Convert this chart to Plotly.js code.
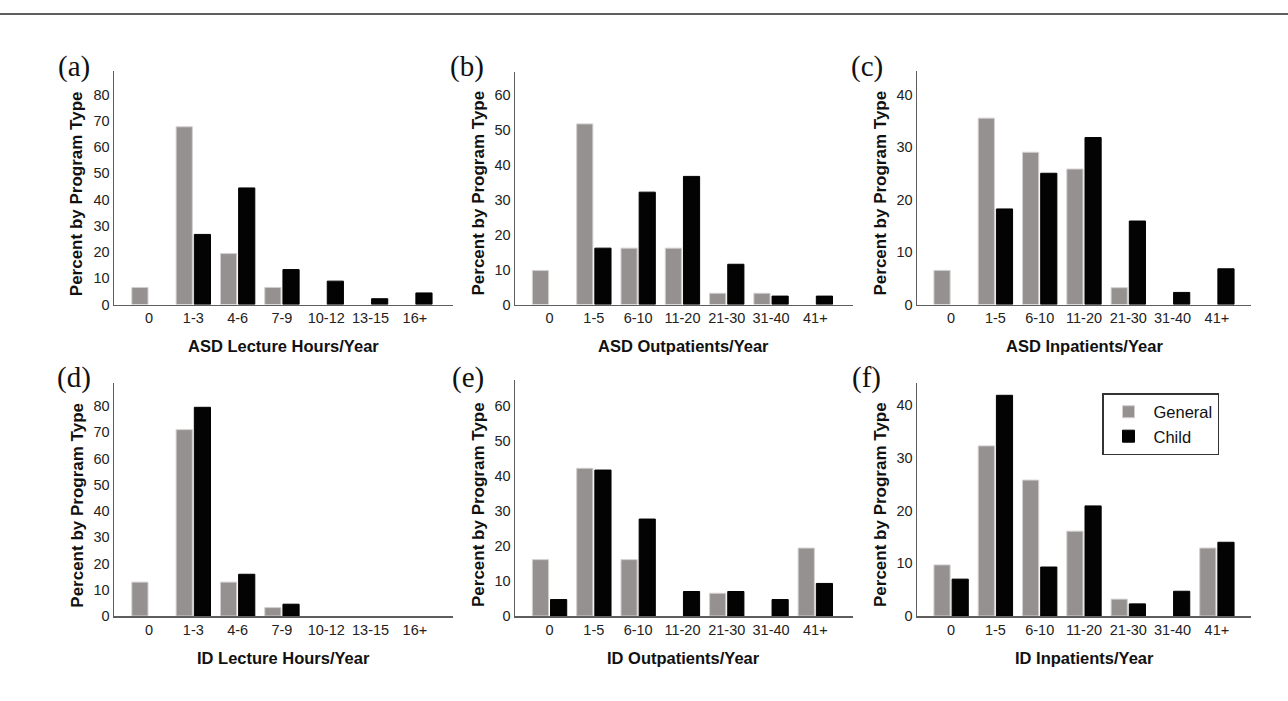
<!DOCTYPE html>
<html>
<head>
<meta charset="utf-8">
<script src="https://cdn.plot.ly/plotly-3.0.1.min.js"></script>
<style>html,body{margin:0;padding:0;background:#fff;}#chart{width:1288px;height:701px;}</style>
</head>
<body>
<div id="chart"></div>
<script>
// ---- data ----
const lectureCats = ['0', '1-3', '4-6', '7-9', '10-12', '13-15', '16+'];
const patientCats = ['0', '1-5', '6-10', '11-20', '21-30', '31-40', '41+'];

const asdLectureGeneral = [6.5, 67.7, 19.4, 6.5, 0, 0, 0];
const asdLectureChild   = [0, 26.7, 44.4, 13.3, 8.9, 2.2, 4.4];
const asdOutGeneral     = [9.7, 51.6, 16.1, 16.1, 3.2, 3.2, 0];
const asdOutChild       = [0, 16.1, 32.1, 36.6, 11.5, 2.4, 2.4];
const asdInGeneral      = [6.5, 35.5, 29.0, 25.8, 3.2, 0, 0];
const asdInChild        = [0, 18.2, 25.0, 31.8, 15.9, 2.3, 6.8];
const idLectureGeneral  = [12.9, 71.0, 12.9, 3.2, 0, 0, 0];
const idLectureChild    = [0, 79.5, 15.9, 4.5, 0, 0, 0];
const idOutGeneral      = [16.1, 42.2, 16.1, 0, 6.5, 0, 19.4];
const idOutChild        = [4.7, 41.7, 27.7, 7.0, 7.0, 4.7, 9.3];
const idInGeneral       = [9.7, 32.3, 25.8, 16.1, 3.2, 0, 12.9];
const idInChild         = [7.0, 41.9, 9.3, 20.9, 2.3, 4.7, 14.0];

const panelLabels = ['(a)', '(b)', '(c)', '(d)', '(e)', '(f)'];
const xTitles = ['ASD Lecture Hours/Year', 'ASD Outpatients/Year', 'ASD Inpatients/Year',
                 'ID Lecture Hours/Year', 'ID Outpatients/Year', 'ID Inpatients/Year'];
const yTitle = 'Percent by Program Type';
const seriesNames = ['General', 'Child'];

// ---- layout helpers (pixel geometry) ----
const W = 1288, H = 701;
const FONT = 'Liberation Sans, Arial, Helvetica, sans-serif';
const GRAY = '#969191', BLACK = '#030303';

const panels = [
  {cats: lectureCats, g: asdLectureGeneral, c: asdLectureChild, x0: 114, x1: 453, base: 304.5, top: 70.5, scale: 2.625, xr: [-0.79, 6.86], ymaxTick: 80},
  {cats: patientCats, g: asdOutGeneral,     c: asdOutChild,     x0: 515, x1: 853, base: 304.5, top: 71.5, scale: 3.5,   xr: [-0.78, 6.85], ymaxTick: 60},
  {cats: patientCats, g: asdInGeneral,      c: asdInChild,      x0: 917, x1: 1251, base: 304.5, top: 70.5, scale: 5.25, xr: [-0.77, 6.77], ymaxTick: 40},
  {cats: lectureCats, g: idLectureGeneral,  c: idLectureChild,  x0: 114, x1: 453, base: 616, top: 383, scale: 2.625,   xr: [-0.79, 6.86], ymaxTick: 80},
  {cats: patientCats, g: idOutGeneral,      c: idOutChild,      x0: 515, x1: 853, base: 616, top: 379.5, scale: 3.5,    xr: [-0.78, 6.85], ymaxTick: 60},
  {cats: patientCats, g: idInGeneral,       c: idInChild,       x0: 917, x1: 1251, base: 616, top: 382.7, scale: 5.267, xr: [-0.77, 6.77], ymaxTick: 40}
];
const labelPos = [[74, 66], [467, 66], [867, 66], [74, 377], [468, 377], [866, 377]];
const yTitleX = [76.7, 478, 880, 76.7, 478, 880];

// empty categories are drawn as no bar at all
const noZero = arr => arr.map(v => (v === 0 ? null : v));

const data = [];
const layout = {
  width: W, height: H,
  margin: {l: 0, r: 0, t: 0, b: 0},
  paper_bgcolor: '#fff', plot_bgcolor: '#fff',
  font: {family: FONT, size: 14, color: '#222'},
  barmode: 'group', bargap: 0.18, bargroupgap: 0.11,
  showlegend: true,
  legend: {
    x: 1102 / W, y: 1 - 393 / H, xanchor: 'left', yanchor: 'top',
    bgcolor: '#fff', bordercolor: '#333', borderwidth: 1.5,
    font: {family: FONT, size: 16.5, color: '#111'},
    traceorder: 'normal', tracegroupgap: 0, itemwidth: 40,
    entrywidth: 120, entrywidthmode: 'pixels'
  },
  annotations: [],
  shapes: [
    {type: 'line', xref: 'paper', yref: 'paper', x0: 0, x1: 1, y0: 1 - 14 / H, y1: 1 - 14 / H,
     line: {color: '#2a2a2a', width: 1.5}}
  ]
};

panels.forEach((p, i) => {
  const n = i + 1;
  const xa = n === 1 ? 'x' : 'x' + n;
  const ya = n === 1 ? 'y' : 'y' + n;
  const ymax = (p.base - p.top) / p.scale;
  const tickvals = [];
  for (let v = 0; v <= p.ymaxTick; v += 10) tickvals.push(v);

  data.push({
    type: 'bar', name: seriesNames[0], x: p.cats, y: noZero(p.g), xaxis: xa, yaxis: ya,
    marker: {color: GRAY, line: {color: '#d2cece', width: 1}},
    showlegend: i === 5, legendgroup: 'g', hoverinfo: 'x+y'
  });
  data.push({
    type: 'bar', name: seriesNames[1], x: p.cats, y: noZero(p.c), xaxis: xa, yaxis: ya,
    marker: {color: BLACK, line: {color: '#000', width: 1}},
    showlegend: i === 5, legendgroup: 'c', hoverinfo: 'x+y'
  });

  const xKey = n === 1 ? 'xaxis' : 'xaxis' + n;
  const yKey = n === 1 ? 'yaxis' : 'yaxis' + n;
  layout[xKey] = {
    type: 'category', domain: [p.x0 / W, p.x1 / W], anchor: ya,
    range: p.xr, fixedrange: true,
    showline: true, linecolor: '#5e5e5e', linewidth: 1.5,
    showgrid: false, zeroline: false, ticks: '',
    ticklabelstandoff: 0,
    tickfont: {family: FONT, size: 14.5, color: '#222'}
  };
  layout[yKey] = {
    domain: [1 - p.base / H, 1 - p.top / H], anchor: xa,
    range: [0, ymax], fixedrange: true,
    showline: true, linecolor: '#5e5e5e', linewidth: 1.5,
    showgrid: false, zeroline: false, ticks: '',
    tickmode: 'array', tickvals: tickvals, ticktext: tickvals.map(String),
    ticklabelstandoff: 0,
    tickfont: {family: FONT, size: 14.5, color: '#222'}
  };

  // panel label
  layout.annotations.push({
    xref: 'paper', yref: 'paper', x: labelPos[i][0] / W, y: 1 - labelPos[i][1] / H,
    xanchor: 'center', yanchor: 'middle', showarrow: false, text: panelLabels[i],
    font: {family: 'Liberation Serif, Times New Roman, serif', size: 29, color: '#111'}
  });
  // x title
  layout.annotations.push({
    xref: 'paper', yref: 'paper', x: ((p.x0 + p.x1) / 2) / W,
    y: 1 - (p.base + 41.5) / H,
    xanchor: 'center', yanchor: 'middle', showarrow: false, text: '<b>' + xTitles[i] + '</b>',
    font: {family: FONT, size: 16.5, color: '#111'}
  });
  // y title
  layout.annotations.push({
    xref: 'paper', yref: 'paper', x: yTitleX[i] / W,
    y: 1 - (i < 3 ? 193.5 : 505) / H,
    xanchor: 'center', yanchor: 'middle', showarrow: false, textangle: -90,
    text: '<b>' + yTitle + '</b>',
    font: {family: FONT, size: 17, color: '#111'}
  });
});

Plotly.newPlot('chart', data, layout, {displayModeBar: false, staticPlot: true});
</script>
</body>
</html>
